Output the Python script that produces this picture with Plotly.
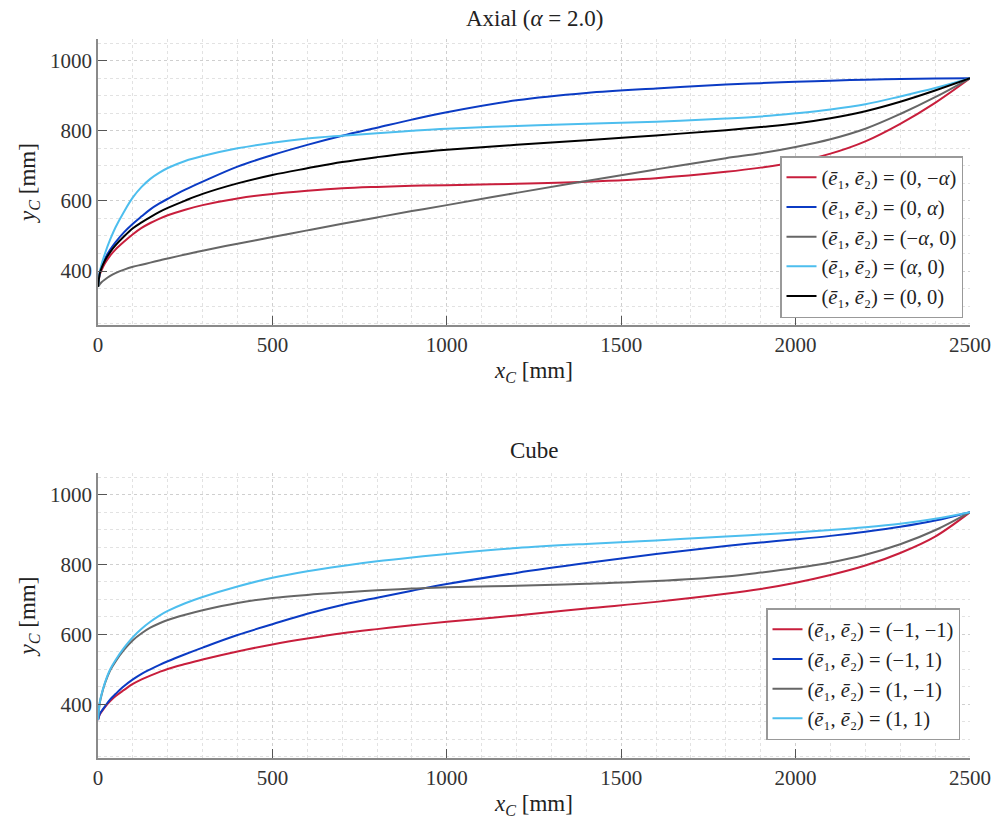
import plotly.graph_objects as go

# Sample positions along the x_C axis (mm), shared by both panels
x_c = [0, 5, 10, 20, 35, 50, 75, 100, 125, 150, 175, 200, 250, 300, 400, 500,
       600, 700, 800, 900, 1000, 1200, 1400, 1600, 1800, 1900, 2000, 2100,
       2200, 2300, 2400, 2500]

# ---- Axial load case (alpha = 2.0), y_C in mm ----
y_axial_0_mA = [355, 389, 402, 422, 444, 461, 484, 505, 523, 537, 549, 559, 575, 588,
                607, 620, 629, 636, 640, 643, 645, 649, 655, 665, 683, 695, 711, 735,
                770, 820, 880, 950]
y_axial_0_A = [355, 395, 412, 435, 461, 482, 511, 535, 556, 576, 592, 606, 632, 655,
               698, 731, 760, 786, 809, 832, 853, 887, 908, 921, 932, 936, 940, 943,
               946, 948, 949, 950]
y_axial_mA_0 = [355, 362, 368, 376, 386, 394, 404, 412, 418, 424, 430, 436, 447, 458,
                478, 497, 516, 535, 553, 571, 588, 623, 657, 690, 722, 736, 754, 776,
                806, 848, 896, 950]
y_axial_A_0 = [355, 395, 418, 450, 490, 524, 570, 610, 640, 663, 680, 694, 714, 728,
               750, 766, 778, 786, 793, 800, 806, 814, 820, 826, 835, 841, 850, 861,
               876, 898, 922, 950]
y_axial_0_0 = [355, 392, 408, 430, 454, 473, 499, 522, 539, 554, 568, 580, 601, 620,
               650, 674, 693, 711, 725, 737, 746, 760, 773, 787, 802, 811, 821, 836,
               856, 883, 915, 950]

# ---- Cube load case, y_C in mm ----
y_cube_m1_m1 = [355, 370, 378, 392, 409, 423, 441, 458, 471, 482, 492, 501, 515, 528,
                551, 571, 588, 603, 615, 626, 636, 654, 674, 693, 716, 730, 748, 770,
                797, 833, 880, 950]
y_cube_m1_p1 = [355, 372, 380, 394, 414, 429, 452, 471, 487, 500, 512, 523, 543, 562,
                598, 629, 659, 684, 705, 725, 744, 776, 804, 830, 853, 863, 872, 882,
                894, 908, 926, 950]
y_cube_p1_m1 = [355, 403, 426, 460, 497, 522, 556, 583, 603, 619, 631, 641, 656, 669,
                690, 704, 713, 720, 726, 731, 735, 739, 745, 753, 766, 777, 790, 806,
                828, 858, 898, 950]
y_cube_p1_p1 = [355, 405, 428, 462, 500, 526, 562, 592, 616, 636, 653, 667, 689, 707,
                737, 762, 781, 796, 809, 820, 830, 847, 859, 869, 880, 886, 892, 899,
                907, 917, 931, 950]

RED = "#C81E3C"
BLUE = "#0B3BC4"
GRAY = "#666666"
LIGHT = "#4DBEEE"
BLACK = "#000000"

EB = "(<i>ē</i>₁, <i>ē</i>₂) = "
A = "<i>α</i>"

axial_series = [
    (y_axial_0_mA, RED, EB + "(0, −" + A + ")"),
    (y_axial_0_A, BLUE, EB + "(0, " + A + ")"),
    (y_axial_mA_0, GRAY, EB + "(−" + A + ", 0)"),
    (y_axial_A_0, LIGHT, EB + "(" + A + ", 0)"),
    (y_axial_0_0, BLACK, EB + "(0, 0)"),
]
cube_series = [
    (y_cube_m1_m1, RED, EB + "(−1, −1)"),
    (y_cube_m1_p1, BLUE, EB + "(−1, 1)"),
    (y_cube_p1_m1, GRAY, EB + "(1, −1)"),
    (y_cube_p1_p1, LIGHT, EB + "(1, 1)"),
]

fig = go.Figure()
for ys, col, name in axial_series:
    fig.add_trace(go.Scatter(x=x_c, y=ys, mode="lines", name=name,
                             line=dict(color=col, width=2, shape="spline", smoothing=1.0),
                             xaxis="x", yaxis="y", legend="legend"))
for ys, col, name in cube_series:
    fig.add_trace(go.Scatter(x=x_c, y=ys, mode="lines", name=name,
                             line=dict(color=col, width=2, shape="spline", smoothing=1.0),
                             xaxis="x2", yaxis="y2", legend="legend2"))

FONT = "Liberation Serif, DejaVu Serif, serif"
H = 833.0


def yd(top_px, bot_px):
    return [1 - bot_px / H, 1 - top_px / H]


xcommon = dict(
    range=[0, 2500], tickvals=[0, 500, 1000, 1500, 2000, 2500],
    showline=True, linecolor="#8a8a8a", linewidth=1.5, mirror=False,
    ticks="inside", ticklen=9, tickcolor="#555555", tickwidth=1,
    showgrid=True, gridcolor="#cfcfcf", griddash="dot", gridwidth=1,
    minor=dict(dtick=100, showgrid=True, gridcolor="#e2e2e2", griddash="dot", gridwidth=1),
    zeroline=False, tickfont=dict(family=FONT, size=21, color="#333333"),
    title=dict(text="<i>x</i><sub><i>C</i></sub> [mm]", font=dict(family=FONT, size=23, color="#222222"),
               standoff=6),
)
ycommon = dict(
    range=[246, 1062], tickvals=[400, 600, 800, 1000],
    showline=True, linecolor="#8a8a8a", linewidth=1.5, mirror=False,
    ticks="inside", ticklen=9, tickcolor="#555555", tickwidth=1,
    showgrid=True, gridcolor="#cfcfcf", griddash="dot", gridwidth=1,
    minor=dict(dtick=50, showgrid=True, gridcolor="#e2e2e2", griddash="dot", gridwidth=1),
    zeroline=False, tickfont=dict(family=FONT, size=21, color="#333333"),
    title=dict(text="<i>y</i><sub><i>C</i></sub> [mm]", font=dict(family=FONT, size=23, color="#222222"),
               standoff=8),
)

legend_style = dict(
    bgcolor="white", bordercolor="#999999", borderwidth=1.5,
    font=dict(family=FONT, size=20.5, color="#222222"),
    xanchor="right", yanchor="bottom", tracegroupgap=0, itemwidth=30,
)

fig.update_layout(
    width=1000, height=833,
    margin=dict(l=98, r=30, t=0, b=0),
    paper_bgcolor="white", plot_bgcolor="white",
    showlegend=True,
    xaxis=dict(**xcommon, domain=[0, 1], anchor="y"),
    yaxis=dict(**ycommon, domain=yd(39, 325), anchor="x"),
    xaxis2=dict(**xcommon, domain=[0, 1], anchor="y2"),
    yaxis2=dict(**ycommon, domain=yd(473, 758), anchor="x2"),
    legend=dict(**legend_style, x=(963 - 98) / 872, y=1 - 318 / H),
    legend2=dict(**legend_style, x=(960 - 98) / 872, y=1 - 740 / H),
    annotations=[
        dict(text="Axial (<i>α</i> = 2.0)", x=0.5, y=1 - 18 / H, xref="paper", yref="paper",
             showarrow=False, xanchor="center", yanchor="middle",
             font=dict(family=FONT, size=23, color="#222222")),
        dict(text="Cube", x=0.5, y=1 - 451 / H, xref="paper", yref="paper",
             showarrow=False, xanchor="center", yanchor="middle",
             font=dict(family=FONT, size=23, color="#222222")),
    ],
)

fig.write_html("out.html")
